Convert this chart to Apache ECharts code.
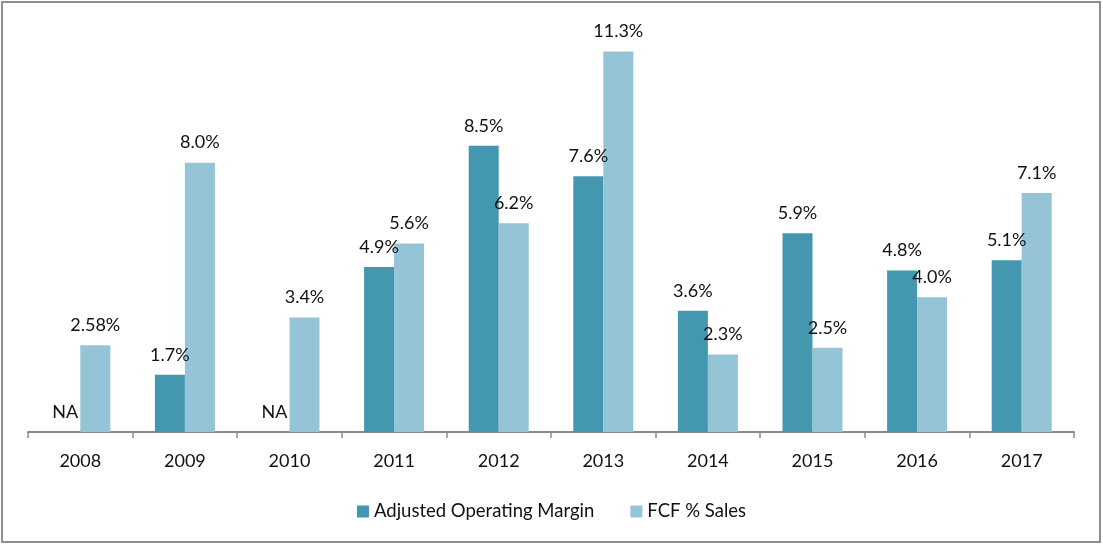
<!DOCTYPE html>
<html><head><meta charset="utf-8">
<script src="https://cdn.jsdelivr.net/npm/echarts@6/dist/echarts.min.js"></script>
<style>html,body{margin:0;padding:0;background:#fff}#c{width:1103px;height:545px}</style>
</head><body><div id="c"></div>
<script>
const categories = ['2008','2009','2010','2011','2012','2013','2014','2015','2016','2017'];
const marginValues = [0, 1.7, 0, 4.9, 8.5, 7.6, 3.6, 5.9, 4.8, 5.1];
const marginLabels = ['NA','1.7%','NA','4.9%','8.5%','7.6%','3.6%','5.9%','4.8%','5.1%'];
const fcfValues = [2.58, 8.0, 3.4, 5.6, 6.2, 11.3, 2.3, 2.5, 4.0, 7.1];
const fcfLabels = ['2.58%','8.0%','3.4%','5.6%','6.2%','11.3%','2.3%','2.5%','4.0%','7.1%'];

const font = 'Lato, "Open Sans", sans-serif';
const chart = echarts.init(document.getElementById('c'));
chart.setOption({
  animation: false,
  textStyle: {fontFamily: font},
  graphic: [{type: 'rect', shape: {x: 2, y: 2, width: 1098, height: 540}, style: {fill: 'none', stroke: '#8e8e8e', lineWidth: 2}}],
  grid: {left: 28, right: 29, top: 28, bottom: 113},
  legend: {
    top: 497, left: 'center', itemWidth: 12, itemHeight: 12, itemGap: 36,
    icon: 'rect',
    textStyle: {fontFamily: font, fontSize: 18.5, color: '#111'},
    data: ['Adjusted Operating Margin', 'FCF % Sales']
  },
  xAxis: {
    type: 'category', data: categories,
    axisLine: {lineStyle: {color: '#8a8a8a', width: 2}},
    axisTick: {show: true, length: 6, lineStyle: {color: '#8a8a8a', width: 1.5}},
    axisLabel: {fontFamily: font, fontSize: 18, color: '#111', margin: 20}
  },
  yAxis: {type: 'value', min: 0, max: 12, show: false, splitLine: {show: false}},
  series: [
    {
      name: 'Adjusted Operating Margin', type: 'bar', data: marginValues,
      barWidth: 30, barGap: '0%',
      itemStyle: {color: '#4397ae'},
      label: {show: true, position: 'top', distance: 11, fontFamily: font, fontSize: 18, color: '#111',
        formatter: p => marginLabels[p.dataIndex]}
    },
    {
      name: 'FCF % Sales', type: 'bar', data: fcfValues,
      barWidth: 30, barGap: '0%',
      itemStyle: {color: '#94c4d6'},
      label: {show: true, position: 'top', distance: 11, fontFamily: font, fontSize: 18, color: '#111',
        formatter: p => fcfLabels[p.dataIndex]}
    }
  ]
});
</script></body></html>
